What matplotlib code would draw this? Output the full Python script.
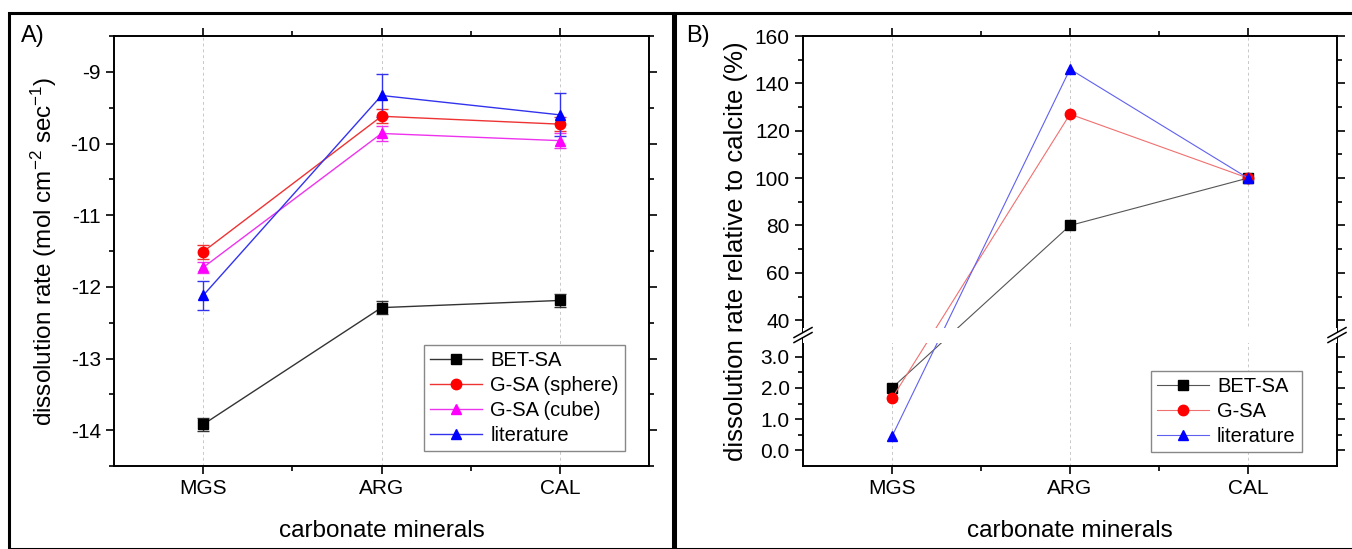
import numpy as np
import matplotlib
matplotlib.use("Agg")
import matplotlib.pyplot as plt
from matplotlib.patches import Rectangle

plt.rcParams["font.family"] = ["Liberation Sans", "DejaVu Sans"]
plt.rcParams["mathtext.fontset"] = "custom"
plt.rcParams["mathtext.rm"] = "Liberation Sans"
plt.rcParams["mathtext.it"] = "Liberation Sans"
plt.rcParams["mathtext.default"] = "regular"

# dados
minerais = ["MGS", "ARG", "CAL"]

# painel A - log taxa de dissolucao
bet_sa = [-13.92, -12.29, -12.19]
bet_sa_err = [0.09, 0.09, 0.09]
gsa_sphere = [-11.51, -9.62, -9.73]
gsa_sphere_err = [0.10, 0.10, 0.10]
gsa_cube = [-11.73, -9.86, -9.96]
gsa_cube_err = [0.08, 0.10, 0.10]
literatura = [-12.12, -9.33, -9.60]
literatura_err = [0.20, 0.30, 0.30]

# painel B - relativo a calcita (%)
rel_bet = [2.0, 80.0, 100.0]
rel_gsa = [1.67, 127.0, 100.0]
rel_lit = [0.45, 146.0, 100.0]

fig = plt.figure(figsize=(13.52, 5.49), dpi=100)
W, H = 1352, 549

# molduras dos paineis
fig.patches.append(Rectangle((9 / W, 0), 664 / W, 1 - 13 / H, transform=fig.transFigure,
                             fill=False, edgecolor="black", linewidth=2.2))
fig.patches.append(Rectangle((675 / W, 0), 680 / W, 1 - 13 / H, transform=fig.transFigure,
                             fill=False, edgecolor="black", linewidth=2.2))

x = np.arange(len(minerais))
tick_fs = 15
leg_fs = 14.5
lab_fs = 17.5


def estilo(ax):
    ax.set_xticks(x)
    ax.set_xticklabels(minerais, fontsize=tick_fs)
    ax.set_xticks([0.5, 1.5], minor=True)
    ax.set_xlim(-0.5, 2.5)
    ax.tick_params(which="both", direction="out", top=True, right=True, labelsize=tick_fs, width=1.2)
    ax.tick_params(which="major", length=6)
    ax.tick_params(which="minor", length=3.5)
    for s in ax.spines.values():
        s.set_linewidth(1.4)
    ax.grid(axis="x", which="major", color="#c8c8c8", linestyle=(0, (3, 3)), linewidth=0.7)
    ax.set_axisbelow(True)
    ax.set_xlabel("carbonate minerals", fontsize=lab_fs, labelpad=16)


# ---------------- Painel A ----------------
axA = fig.add_axes([114 / W, 1 - 466 / H, 535 / W, 430 / H])
series_a = [
    (bet_sa, bet_sa_err, "black", "s", "BET-SA", "#333333"),
    (gsa_sphere, gsa_sphere_err, "red", "o", "G-SA (sphere)", "#ee3333"),
    (gsa_cube, gsa_cube_err, "magenta", "^", "G-SA (cube)", "#ee33ee"),
    (literatura, literatura_err, "blue", "^", "literature", "#3333ee"),
]
for vals, err, cor, mk, lab, cor_linha in series_a:
    axA.errorbar(x, vals, yerr=err, color=cor_linha, ecolor=cor_linha, marker=mk,
                 markerfacecolor=cor, markeredgecolor=cor, markersize=7.5,
                 linewidth=1.0, elinewidth=1.0, capsize=4.5, capthick=1.0, label=lab)
axA.set_ylim(-14.5, -8.5)
axA.set_yticks([-14, -13, -12, -11, -10, -9])
axA.set_yticklabels(["-14", "-13", "-12", "-11", "-10", "-9"])
axA.set_yticks(np.arange(-14.5, -8.4, 0.5), minor=True)
estilo(axA)
axA.set_ylabel("dissolution rate (mol cm$^{\\mathregular{-2}}$ sec$^{\\mathregular{-1}}$)",
               fontsize=lab_fs, labelpad=8)
hA, lA = axA.get_legend_handles_labels()
hA = [h[0] for h in hA]
axA.legend(hA, lA, loc="lower right", bbox_to_anchor=(0.955, 0.035), fontsize=leg_fs,
           frameon=True, fancybox=False, edgecolor="#888888", framealpha=1,
           handlelength=2.6, handletextpad=0.4, labelspacing=0.3, borderpad=0.3, borderaxespad=0)
fig.text(21 / W, 1 - 36 / H, "A)", fontsize=17, va="center", ha="left")

# ---------------- Painel B (eixo quebrado) ----------------
lo_top, hi_bot = 3.6, 35.0
k_lo, k_gap, k_hi = 31.3, 6.0 / (35.0 - 3.6), 2.375
f_lo = lo_top * k_lo
f_gap = f_lo + (hi_bot - lo_top) * k_gap


def fwd(y):
    y = np.asarray(y, dtype=float)
    return np.where(y <= lo_top, y * k_lo,
                    np.where(y <= hi_bot, f_lo + (y - lo_top) * k_gap,
                             f_gap + (y - hi_bot) * k_hi))


def inv(v):
    v = np.asarray(v, dtype=float)
    return np.where(v <= f_lo, v / k_lo,
                    np.where(v <= f_gap, lo_top + (v - f_lo) / k_gap,
                             hi_bot + (v - f_gap) / k_hi))


axB = fig.add_axes([803 / W, 1 - 466 / H, 534 / W, 430 / H])
axB.set_yscale("function", functions=(fwd, inv))
series_b = [
    (rel_bet, "black", "s", "BET-SA", "#555555"),
    (rel_gsa, "red", "o", "G-SA", "#f07070"),
    (rel_lit, "blue", "^", "literature", "#6060f0"),
]
for vals, cor, mk, lab, cor_linha in series_b:
    axB.plot(x, vals, color=cor_linha, marker=mk, markerfacecolor=cor, markeredgecolor=cor,
             markersize=7.5, linewidth=0.8, label=lab, zorder=3)
axB.set_ylim(-0.5, 160)
axB.set_yticks([0, 1, 2, 3, 40, 60, 80, 100, 120, 140, 160])
axB.set_yticklabels(["0.0", "1.0", "2.0", "3.0", "40", "60", "80", "100", "120", "140", "160"])
axB.set_yticks([0.5, 1.5, 2.5, 50, 70, 90, 110, 130, 150], minor=True)
estilo(axB)
axB.set_ylabel("dissolution rate relative to calcite (%)", fontsize=18.5, labelpad=5)

# faixa branca da quebra
axB.axhspan(lo_top - 0.15, hi_bot + 1.5, color="white", zorder=4, linewidth=0)
f0, f1 = fwd(-0.5), fwd(160)
ymid = float((fwd((lo_top + hi_bot) / 2) - f0) / (f1 - f0))
dx = 9 / 534
dy = 5 / 430
gap = 5 / 430
for xs in (0.0, 1.0):
    axB.add_patch(Rectangle((xs - 0.01, ymid - gap / 2), 0.02, gap, transform=axB.transAxes,
                            facecolor="white", edgecolor="none", clip_on=False, zorder=5))
    for off in (-gap / 2, gap / 2):
        axB.plot([xs - dx, xs + dx], [ymid + off - dy, ymid + off + dy], transform=axB.transAxes,
                 color="black", linewidth=1.1, clip_on=False, zorder=6)

axB.legend(loc="lower right", bbox_to_anchor=(0.934, 0.033), fontsize=leg_fs,
           frameon=True, fancybox=False, edgecolor="#888888", framealpha=1,
           handlelength=2.6, handletextpad=0.4, labelspacing=0.3, borderpad=0.3, borderaxespad=0)
fig.text(686 / W, 1 - 36 / H, "B)", fontsize=17, va="center", ha="left")

fig.savefig("out.png", dpi=100)
